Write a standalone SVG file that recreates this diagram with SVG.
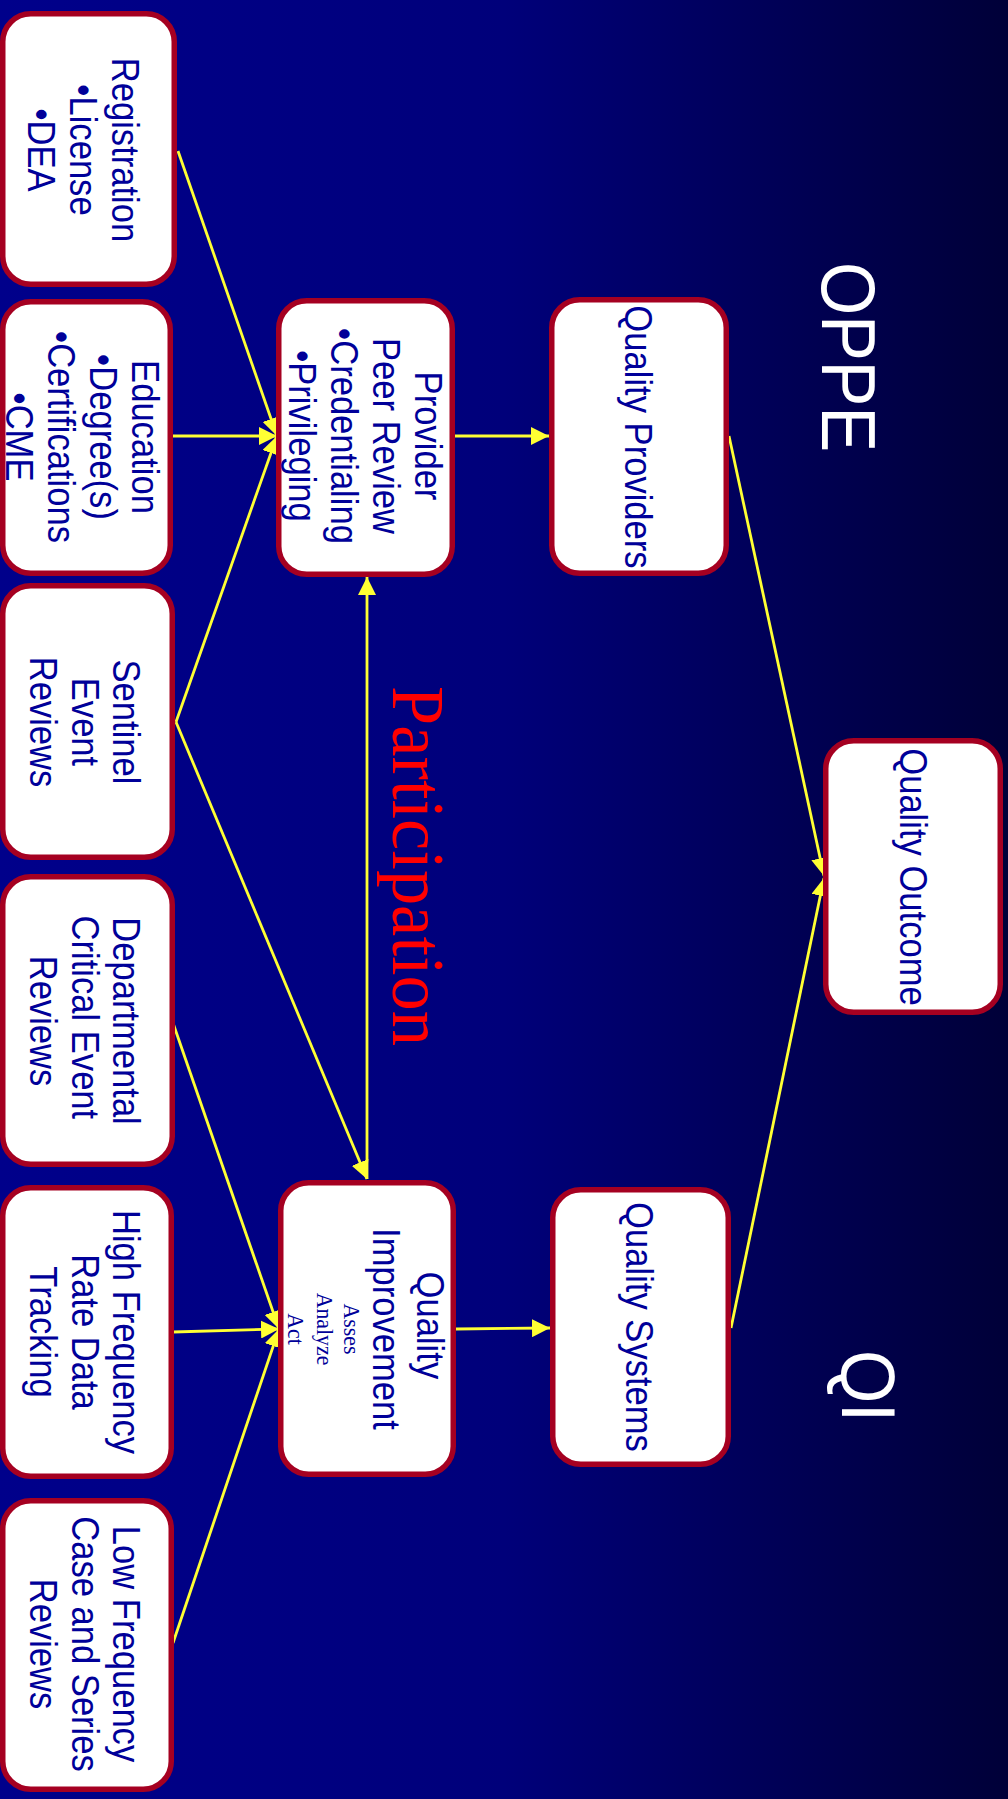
<svg xmlns="http://www.w3.org/2000/svg" width="1008" height="1799" viewBox="0 0 1008 1799">
<defs>
<linearGradient id="bg" x1="0" y1="0" x2="1" y2="0">
<stop offset="0" stop-color="#00008B"/>
<stop offset="0.5" stop-color="#00007A"/>
<stop offset="1" stop-color="#000038"/>
</linearGradient>
<marker id="arr" markerUnits="userSpaceOnUse" markerWidth="18" markerHeight="18" viewBox="0 0 17 17" refX="17" refY="8.5" orient="auto">
<path d="M0,0 L17,8.5 L0,17 z" fill="#FFFF33"/>
</marker>
<style>
.box{fill:#FFFFFF;stroke:#A50021;stroke-width:5.5}
.t{font-family:"Liberation Sans",Arial,sans-serif;font-size:38px;fill:#000099;text-anchor:middle}
.s{font-family:"Liberation Serif","Times New Roman",serif;font-size:24px;fill:#000099;text-anchor:middle}
.big{font-family:"Liberation Sans",Arial,sans-serif;font-size:76px;fill:#FFFFFF;text-anchor:middle}
.part{font-family:"Liberation Serif","Times New Roman",serif;font-size:73px;fill:#FF0000;text-anchor:middle}
.c{fill:none;stroke:#FFFF33;stroke-width:2.8}
</style>
</defs>
<rect x="0" y="0" width="1008" height="1799" fill="url(#bg)"/>

<g id="labels">
<text class="big" transform="translate(0,357) rotate(90) scale(0.9,1)" y="-822">OPPE</text>
<text class="big" transform="translate(0,1386) rotate(90) scale(0.9,1)" y="-842">QI</text>
<text class="part" transform="translate(0,866) rotate(90) scale(0.965,1)" y="-393">Participation</text>
</g>

<g id="connectors">
<path class="c" d="M178,151 L277,436" marker-end="url(#arr)"/>
<path class="c" d="M173,436 L277,436" marker-end="url(#arr)"/>
<path class="c" d="M176,722 L277,436" marker-end="url(#arr)"/>
<path class="c" d="M176,722 L367,1179" marker-end="url(#arr)"/>
<path class="c" d="M367,1179 L367,577" marker-end="url(#arr)"/>
<path class="c" d="M173,1023 L279,1329" marker-end="url(#arr)"/>
<path class="c" d="M173,1332 L279,1329" marker-end="url(#arr)"/>
<path class="c" d="M173,1643 L279,1329" marker-end="url(#arr)"/>
<path class="c" d="M455,436 L549,436" marker-end="url(#arr)"/>
<path class="c" d="M456,1329 L550,1328" marker-end="url(#arr)"/>
<path class="c" d="M729,436 L824,876" marker-end="url(#arr)"/>
<path class="c" d="M731,1328 L824,878" marker-end="url(#arr)"/>
</g>

<g id="registration">
<rect class="box" x="2.75" y="13.75" width="171.5" height="270.5" rx="28"/>
<g transform="translate(0,150) rotate(90) scale(0.91,1)">
<text class="t" y="-112">Registration</text>
<text class="t" y="-70">•License</text>
<text class="t" y="-28">•DEA</text>
</g>
</g>

<g id="education">
<rect class="box" x="2.75" y="301.75" width="167.5" height="271.5" rx="28"/>
<g transform="translate(0,437) rotate(90) scale(0.91,1)">
<text class="t" y="-132">Education</text>
<text class="t" y="-90">•Degree(s)</text>
<text class="t" y="-48">•Certifications</text>
<text class="t" y="-6">•CME</text>
</g>
</g>

<g id="sentinel">
<rect class="box" x="2.75" y="585.75" width="169.5" height="271.5" rx="28"/>
<g transform="translate(0,722) rotate(90) scale(0.91,1)">
<text class="t" y="-113">Sentinel</text>
<text class="t" y="-72">Event</text>
<text class="t" y="-30">Reviews</text>
</g>
</g>

<g id="departmental">
<rect class="box" x="2.75" y="876.75" width="169.5" height="287.5" rx="28"/>
<g transform="translate(0,1021) rotate(90) scale(0.91,1)">
<text class="t" y="-113">Departmental</text>
<text class="t" y="-72" x="-4">Critical Event</text>
<text class="t" y="-30">Reviews</text>
</g>
</g>

<g id="highfreq">
<rect class="box" x="2.75" y="1187.75" width="168.5" height="288.5" rx="28"/>
<g transform="translate(0,1332) rotate(90) scale(0.91,1)">
<text class="t" y="-113">High Frequency</text>
<text class="t" y="-72">Rate Data</text>
<text class="t" y="-30">Tracking</text>
</g>
</g>

<g id="lowfreq">
<rect class="box" x="2.75" y="1500.75" width="168.5" height="288.5" rx="28"/>
<g transform="translate(0,1644) rotate(90) scale(0.91,1)">
<text class="t" y="-113">Low Frequency</text>
<text class="t" y="-72">Case and Series</text>
<text class="t" y="-30">Reviews</text>
</g>
</g>

<g id="provider">
<rect class="box" x="278.75" y="300.75" width="173.5" height="273.5" rx="28"/>
<g transform="translate(0,436) rotate(90) scale(0.91,1)">
<text class="t" y="-415">Provider</text>
<text class="t" y="-373">Peer Review</text>
<text class="t" y="-331">•Credentialing</text>
<text class="t" y="-289">•Privileging</text>
</g>
</g>

<g id="qualityimprovement">
<rect class="box" x="280.75" y="1182.75" width="172.5" height="291.5" rx="28"/>
<g transform="translate(0,1329) rotate(90) scale(0.91,1)">
<text class="t" y="-417" x="-4">Quality</text>
<text class="t" y="-373">Improvement</text>
<text class="s" y="-344">Asses</text>
<text class="s" y="-317">Analyze</text>
<text class="s" y="-288">Act</text>
</g>
</g>

<g id="qualityproviders">
<rect class="box" x="551.75" y="299.75" width="174.5" height="273.5" rx="28"/>
<g transform="translate(0,437) rotate(90) scale(0.91,1)">
<text class="t" y="-625">Quality Providers</text>
</g>
</g>

<g id="qualitysystems">
<rect class="box" x="552.75" y="1189.75" width="175.5" height="274.5" rx="28"/>
<g transform="translate(0,1327) rotate(90) scale(0.91,1)">
<text class="t" y="-626">Quality Systems</text>
</g>
</g>

<g id="qualityoutcome">
<rect class="box" x="825.75" y="740.75" width="174.5" height="271.5" rx="28"/>
<g transform="translate(0,877) rotate(90) scale(0.91,1)">
<text class="t" y="-900">Quality Outcome</text>
</g>
</g>
</svg>
